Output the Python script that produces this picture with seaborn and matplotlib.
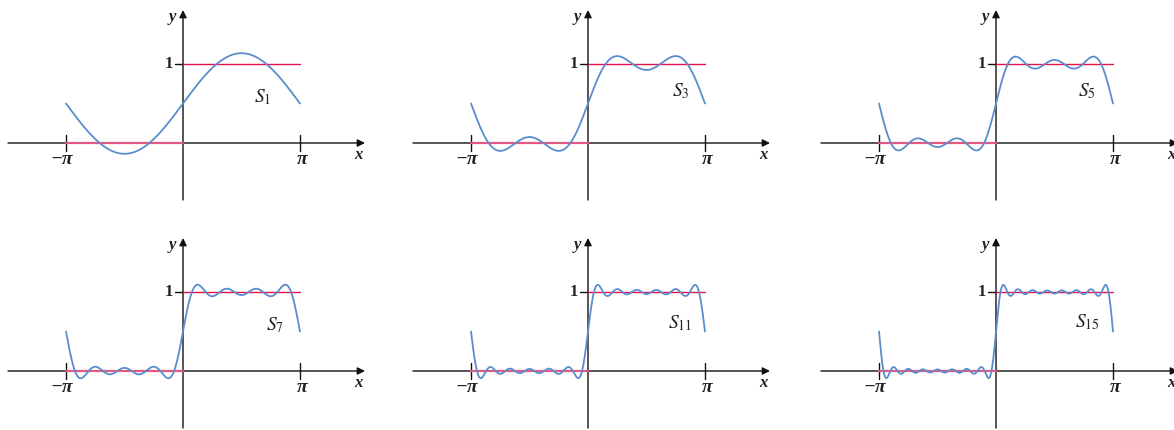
import numpy as np
import matplotlib
matplotlib.use("Agg")
import matplotlib.pyplot as plt
import seaborn as sns

# partial sums S_n of the square wave (0 on [-pi, 0), 1 on [0, pi))
orders = [1, 3, 5, 7, 11, 15]
labels = ["$S_{1}$", "$S_{3}$", "$S_{5}$", "$S_{7}$", "$S_{11}$", "$S_{15}$"]
a0 = 0.5
harmonics = [1, 3, 5, 7, 9, 11, 13, 15]
coeffs = [0.6366, 0.2122, 0.1273, 0.0909, 0.0707, 0.0579, 0.0490, 0.0424]
step_x = [-np.pi, 0.0, np.pi]
step_y = [0.0, 1.0]
tick_labels = ["\u2212\u03c0", "\u03c0", "1"]

sns.set_theme(style="white")
plt.rcParams["font.family"] = ["Liberation Serif", "DejaVu Serif"]
plt.rcParams["mathtext.fontset"] = "stix"

W, H = 1174, 430
fig = plt.figure(figsize=(W / 100, H / 100), dpi=100)

BLUE = "#5a8dcc"
RED = "#e3124b"
PINK = "#e35a80"
TXT = "#222222"
sx = 117 / np.pi   # pixels per x unit
sy = 79            # pixels per y unit
origins = [(183, 143), (588, 143), (996, 143), (183, 371), (588, 371), (996, 371)]
label_pos = [(0.68, 0.58), (0.79, 0.65), (0.78, 0.65), (0.79, 0.58), (0.79, 0.61), (0.78, 0.62)]

xs = np.linspace(-np.pi, np.pi, 1200)

for i, (ox, oy) in enumerate(origins):
    L, R, T, B = ox - 182, ox + 192, oy - 142, oy + 64
    ax = fig.add_axes([L / W, 1 - B / H, (R - L) / W, (B - T) / H])
    ax.set_xlim((L - ox) / sx, (R - ox) / sx)
    ax.set_ylim((oy - B) / sy, (oy - T) / sy)
    ax.axis("off")

    # axes with arrows
    ax.annotate("", xy=(182 / sx, 0), xytext=(-175 / sx, 0),
                arrowprops=dict(arrowstyle="-|>", color="#111111", lw=1.0,
                                mutation_scale=11, shrinkA=0, shrinkB=0),
                annotation_clip=False)
    ax.annotate("", xy=(0, 133 / sy), xytext=(0, -57 / sy),
                arrowprops=dict(arrowstyle="-|>", color="#111111", lw=1.0,
                                mutation_scale=11, shrinkA=0, shrinkB=0),
                annotation_clip=False)
    # ticks
    for xt in (-np.pi, np.pi):
        ax.plot([xt, xt], [-8 / sy, 8 / sy], color="#111111", lw=1.0)
    ax.plot([-8 / sx, 0], [1, 1], color="#111111", lw=1.0)

    # step function
    ax.plot(step_x[:2], [step_y[0]] * 2, color=PINK, lw=1.6, zorder=3)
    ax.plot(step_x[1:], [step_y[1]] * 2, color=RED, lw=1.0, zorder=3)

    # partial sum
    n = orders[i]
    ys = a0 + sum(c * np.sin(k * xs) for k, c in zip(harmonics, coeffs) if k <= n)
    sns.lineplot(x=xs, y=ys, ax=ax, color=BLUE, lw=1.3, zorder=4, estimator=None, sort=False)

    # text
    ax.text(-4 / sx - np.pi, -8 / sy, tick_labels[0], ha="center", va="top", fontsize=14,
            fontweight="bold", style="italic", color=TXT)
    ax.text(np.pi + 2 / sx, -8 / sy, tick_labels[1], ha="center", va="top", fontsize=14,
            fontweight="bold", style="italic", color=TXT)
    ax.text(-10 / sx, 1, tick_labels[2], ha="right", va="center", fontsize=12,
            fontweight="bold", color=TXT)
    ax.text(-11 / sx, 126 / sy, "y", ha="center", va="center", fontsize=12,
            style="italic", fontweight="bold", color=TXT)
    ax.text(175 / sx, -12 / sy, "x", ha="center", va="center", fontsize=12,
            style="italic", fontweight="bold", color=TXT)
    lx, ly = label_pos[i]
    ax.text(lx * np.pi, ly, labels[i], ha="center", va="center", fontsize=14, color=TXT)

fig.savefig("out.png", dpi=100)
